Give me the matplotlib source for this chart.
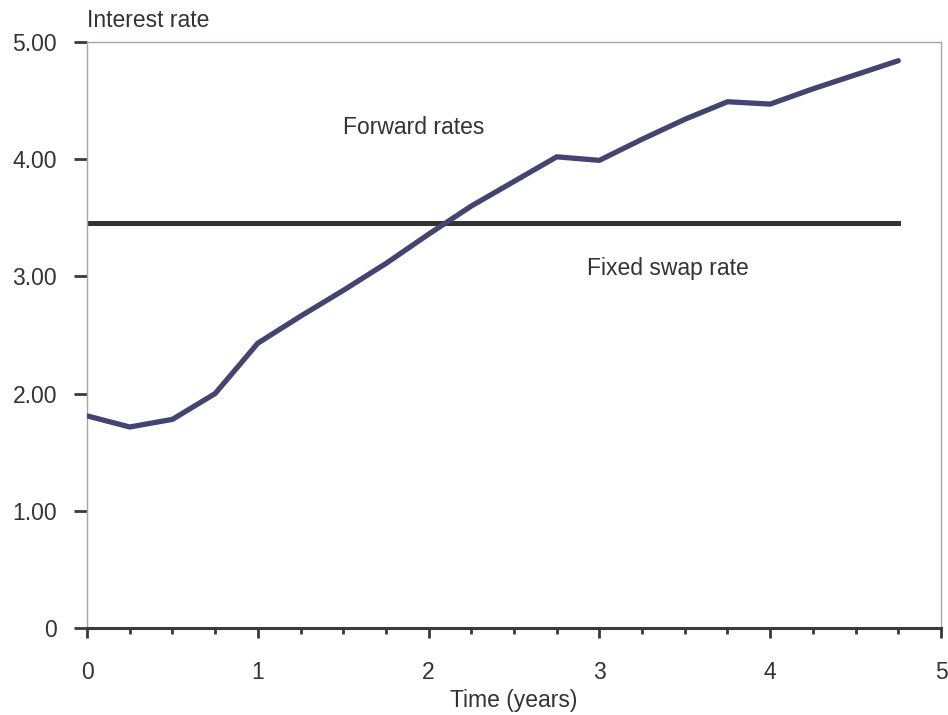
import numpy as np
import matplotlib.pyplot as plt
from matplotlib.ticker import MultipleLocator

plt.rcParams['font.family'] = ['Liberation Sans', 'DejaVu Sans']

# Quarterly forward rates
time_years = [0, 0.25, 0.5, 0.75, 1.0, 1.25, 1.5, 1.75, 2.0, 2.25,
              2.5, 2.75, 3.0, 3.25, 3.5, 3.75, 4.0, 4.25, 4.5, 4.75]
forward_rates = [1.81, 1.715, 1.78, 2.00, 2.43, 2.66, 2.88, 3.11, 3.36, 3.60,
                 3.81, 4.02, 3.99, 4.17, 4.34, 4.49, 4.47, 4.60, 4.72, 4.84]
fixed_swap_rate = 3.455

y_ticks = [0, 1, 2, 3, 4, 5]
y_labels = ["0", "1.00", "2.00", "3.00", "4.00", "5.00"]
x_ticks = [0, 1, 2, 3, 4, 5]

fig = plt.figure(figsize=(9.48, 7.15), dpi=100)
ax = fig.add_axes([0.0918, 0.1217, 0.9008, 0.8196])

frame_col = "#b0a49a"
dark = "#3a3a3a"
txt = "#333333"
fs = 16.5

ax.plot(time_years, forward_rates, color="#434471", lw=3.8,
        solid_capstyle="round", solid_joinstyle="round", zorder=3)
ax.plot([time_years[0], time_years[-1]], [fixed_swap_rate, fixed_swap_rate],
        color="#333333", lw=3.6, zorder=2)

ax.text(1.91, 4.27, "Forward rates", fontsize=fs, color=txt,
        ha="center", va="center")
ax.text(3.40, 3.07, "Fixed swap rate", fontsize=fs, color=txt,
        ha="center", va="center")

ax.set_xlim(0, 5)
ax.set_ylim(0, 5)
ax.set_xticks(x_ticks)
ax.xaxis.set_minor_locator(MultipleLocator(0.25))
ax.set_yticks(y_ticks)
ax.set_yticklabels(y_labels)

for side in ["left", "top", "right"]:
    ax.spines[side].set_color(frame_col)
    ax.spines[side].set_linewidth(1.0)
ax.spines["bottom"].set_color(dark)
ax.spines["bottom"].set_linewidth(2.2)

ax.tick_params(axis="x", which="major", direction="out", length=7.5, width=2,
               color=dark, labelsize=fs, labelcolor=txt, pad=16)
ax.tick_params(axis="x", which="minor", direction="out", length=4.5, width=2,
               color=dark)
ax.tick_params(axis="y", direction="out", length=9.5, width=2, color=dark,
               labelsize=fs, labelcolor=txt, pad=12)

ax.set_xlabel("Time (years)", fontsize=fs, color=txt, labelpad=4)
fig.text(0.0918, 0.971, "Interest rate", fontsize=fs, color=txt,
         ha="left", va="center")

fig.savefig("out.png", dpi=100)
